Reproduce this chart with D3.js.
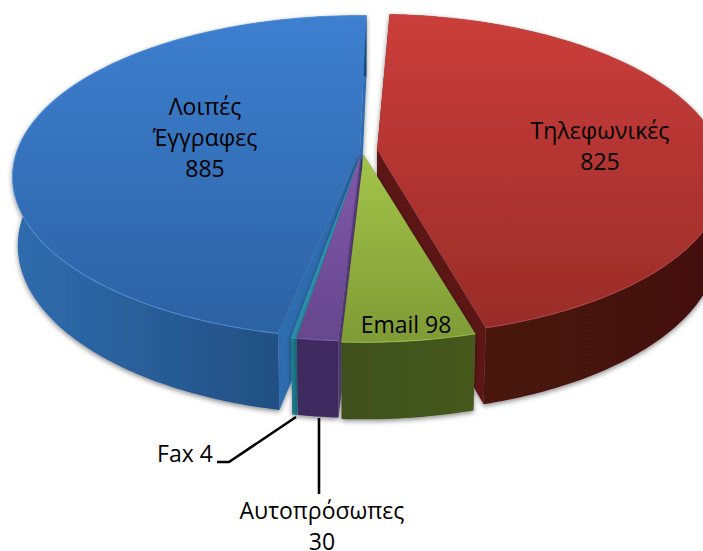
<!DOCTYPE html>
<html>
<head>
<meta charset="utf-8">
<script src="https://cdn.jsdelivr.net/npm/d3@7"></script>
<style>
html, body { margin: 0; padding: 0; background: #fff; overflow: hidden; }
text { font-family: "Open Sans", "Noto Sans", sans-serif; font-size: 23px; fill: #000; text-anchor: middle; }
</style>
</head>
<body>
<svg id="chart" width="703" height="551"></svg>
<script>
// chart values, same order as the pie runs clockwise
var categories = ['Τηλεφωνικές', 'Email', 'Αυτοπρόσωπες', 'Fax', 'Λοιπές Έγγραφες'];
var counts = [825, 98, 30, 4, 885];

// how far each slice sits off the pie centre (fraction of radius)
var shiftX = [0.044, 0.005, -0.003, -0.004, -0.006];
var shiftY = [-0.025, 0.006, 0, 0, -0.014];
// degrees trimmed off the slice edges, the perspective eats a bit of them
var trimStart = [0, 0, 0, 0, 1.8];
var trimEnd = [-0.7, 0, 0, 0, 1.6];

var topColors = [['#cb3d3a', '#992c29'], ['#a3c449', '#7f9b36'], ['#8159ab', '#65478d'], ['#37aac6', '#2c8ea6'], ['#3d7fd0', '#2c62a3']];
var wallColors = ['#5c1613', '#55691f', '#5b3f82', '#2a8aa0', '#2f6cb0'];
var rimColors = [['#4a1310', '#43110e'], ['#3e4f1b', '#46591f'], ['#3e2a5e', '#3f2b60'], ['#1d7b8c', '#1d7b8c'], ['#2f6cae', '#1f4675']];
var edgeColors = ['#c0504d', '#b0cf5e', '#8f6cb5', '#4bb8d0', '#5a9ae0'];

// perspective of the tilted disc
var cx = 362, cy = 154, R = 344, Q = 158, H = 69, p = 0.155, e = 0.015;

function project(X, Y, z) {
	var w = 1 - p * Y + e * z;
	return [cx + R * X / w, cy + (Q * Y + H * z) / w];
}

var pie = d3.pie().sort(null)
	.startAngle(2.8 * Math.PI / 180)
	.endAngle(362.8 * Math.PI / 180);
var arcs = pie(counts);
arcs.forEach(function(d) {
	d.a0 = d.startAngle + trimStart[d.index] * Math.PI / 180;
	d.a1 = d.endAngle - trimEnd[d.index] * Math.PI / 180;
});

function point(d, r, a, z) {
	return project(r * Math.sin(a) + shiftX[d.index], -r * Math.cos(a) + shiftY[d.index], z);
}

function rim(d, z) {
	var n = Math.max(2, Math.ceil((d.a1 - d.a0) * 60));
	return d3.range(n + 1).map(function(i) {
		return point(d, 1, d.a0 + (d.a1 - d.a0) * i / n, z);
	});
}

var line = d3.line();
var svg = d3.select('#chart');
var defs = svg.append('defs');

var shadow = defs.append('filter').attr('id', 'shadow')
	.attr('x', '-10%').attr('y', '-10%').attr('width', '120%').attr('height', '120%');
shadow.append('feDropShadow').attr('dx', 0).attr('dy', 2).attr('stdDeviation', 2.5)
	.attr('flood-color', '#000').attr('flood-opacity', 0.45);

arcs.forEach(function(d) {
	var i = d.index;
	var g = defs.append('linearGradient').attr('id', 'top' + i).attr('x1', 0).attr('y1', 0).attr('x2', 0).attr('y2', 1);
	g.append('stop').attr('offset', 0).attr('stop-color', topColors[i][0]);
	g.append('stop').attr('offset', 1).attr('stop-color', topColors[i][1]);
	var s = defs.append('linearGradient').attr('id', 'side' + i).attr('x1', 0).attr('y1', 0).attr('x2', 1).attr('y2', 0);
	s.append('stop').attr('offset', 0).attr('stop-color', rimColors[i][0]);
	s.append('stop').attr('offset', 1).attr('stop-color', rimColors[i][1]);
});

// back to front: red, blue, then the small ones, green last
var order = [0, 4, 3, 2, 1];
order.forEach(function(i) {
	var d = arcs[i];
	var g = svg.append('g').attr('filter', 'url(#shadow)');
	var topRim = rim(d, 0), botRim = rim(d, 1);

	[d.a0, d.a1].forEach(function(a) {
		g.append('path')
			.attr('d', line([point(d, 0, a, 0), point(d, 1, a, 0), point(d, 1, a, 1), point(d, 0, a, 1)]) + 'Z')
			.attr('fill', wallColors[i]);
	});

	g.append('path')
		.attr('d', line(topRim.concat(botRim.slice().reverse())) + 'Z')
		.attr('fill', 'url(#side' + i + ')');

	g.append('path')
		.attr('d', line([point(d, 0, 0, 0)].concat(topRim)) + 'Z')
		.attr('fill', 'url(#top' + i + ')');

	g.append('path')
		.attr('d', line(topRim))
		.attr('fill', 'none')
		.attr('stroke', edgeColors[i])
		.attr('stroke-opacity', 0.6)
		.attr('stroke-width', 1.2);
});

// leader lines for the two thin slices
svg.append('path').attr('d', line([[296, 417], [229, 462], [217, 462]]))
	.attr('fill', 'none').attr('stroke', '#000').attr('stroke-width', 2.6);
svg.append('path').attr('d', line([[319, 418], [319, 494]]))
	.attr('fill', 'none').attr('stroke', '#000').attr('stroke-width', 2.6);

function label(x, y, lines) {
	lines.forEach(function(t, k) {
		svg.append('text').attr('x', x).attr('y', y + k * 31).text(t);
	});
}
label(600, 139, [categories[0], counts[0]]);
label(406, 333, [categories[1] + ' ' + counts[1]]);
label(322, 519, [categories[2], counts[2]]);
label(185, 462, [categories[3] + ' ' + counts[3]]);
label(205, 115, categories[4].split(' ').concat(counts[4]));
</script>
</body>
</html>
